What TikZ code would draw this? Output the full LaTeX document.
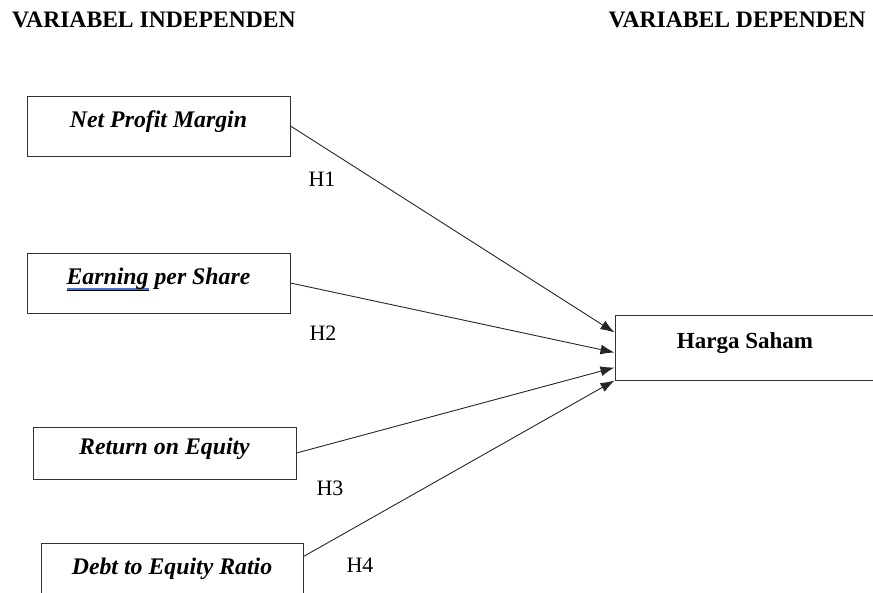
\documentclass[tikz,border=0pt]{standalone}
\usepackage{fontspec}
\setmainfont{Liberation Serif}
\usetikzlibrary{arrows.meta,calc}
\definecolor{spellblue}{RGB}{68,114,210}
\newcommand\blueul[1]{\setbox0\hbox{#1}\rlap{\color{spellblue}\rule[-5.5pt]{\wd0}{1.1pt}}\underline{\box0}}
\begin{document}
\begin{tikzpicture}[x=1pt,y=-1pt,
  varbox/.style={draw=black!80, line width=1pt, rectangle, inner sep=0pt,
     font=\fontsize{23.8}{28}\selectfont\bfseries\itshape, text height=16pt, text depth=14pt},
  hbox/.style={draw=black!80, line width=1pt, rectangle, inner sep=0pt,
     font=\fontsize{23}{27}\selectfont\bfseries, text height=16pt, text depth=14pt},
  hlab/.style={font=\fontsize{22}{26}\selectfont, inner sep=0pt},
  head/.style={font=\fontsize{23.6}{28}\selectfont\bfseries, inner sep=0pt},
  conn/.style={draw=black!85, line width=0.9pt, -{Latex[length=14pt,width=10pt]}}]
\useasboundingbox (0,0) rectangle (873,592);
\clip (0,0) rectangle (873,592);
\node[head, anchor=west] (hi) at (12,20) {VARIABEL INDEPENDEN};
\node[head, anchor=east] (hd) at (866,20) {VARIABEL DEPENDEN};
\node[varbox, minimum width=263pt, minimum height=60pt] (npm) at (158.5,126) {Net Profit Margin};
\node[varbox, minimum width=263pt, minimum height=60pt] (eps) at (158.5,283) {\blueul{Earning} per Share};
\node[varbox, minimum width=263pt, minimum height=52pt] (roe) at (164.5,453) {Return on Equity};
\node[varbox, minimum width=262pt, minimum height=60pt] (der) at (172,573) {Debt to Equity Ratio};
\node[hbox, minimum width=260pt, minimum height=65pt] (hs) at (745,347.5) {Harga Saham};
\draw[draw=black!80, line width=1pt] (hs.north east) -- ++(20,0) (hs.south east) -- ++(20,0);
\coordinate (t1) at ($(hs.north west)+(0,18)$);
\coordinate (t2) at ($(hs.north west)+(0,38)$);
\coordinate (t3) at ($(hs.north west)+(0,53)$);
\coordinate (t4) at ($(hs.north west)+(0,66)$);
\coordinate (s4) at ($(der.north east)+(0,14)$);
\draw[conn] (npm.east) -- (t1);
\draw[conn] (eps.east) -- (t2);
\draw[conn] (roe.east) -- (t3);
\draw[conn] (s4) -- (t4);
\node[hlab] (h1) at (322,179) {H1};
\node[hlab] (h2) at (323,333) {H2};
\node[hlab] (h3) at (330,488) {H3};
\node[hlab] (h4) at (360,565) {H4};
\end{tikzpicture}
\end{document}
